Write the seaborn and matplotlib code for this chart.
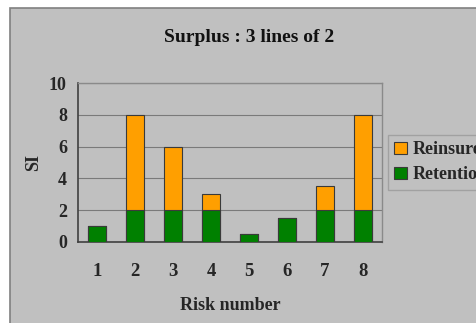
import matplotlib
matplotlib.use("Agg")
import matplotlib.pyplot as plt
import seaborn as sns
import numpy as np
import pandas as pd
from matplotlib.patches import Rectangle

categories = ["1", "2", "3", "4", "5", "6", "7", "8"]
retention = [1, 2, 2, 2, 0.5, 1.5, 2, 2]
reinsured = [0, 6, 4, 1, 0, 0, 1.5, 6]
yticks = [0, 2, 4, 6, 8, 10]

sns.set_style("white")
plt.rcParams["font.family"] = ["Liberation Serif", "DejaVu Serif"]
plt.rcParams["font.weight"] = "bold"

W, H = 477, 323
fig = plt.figure(figsize=(W / 100, H / 100), dpi=100)
fig.patch.set_facecolor("white")
bg = "#C0C0C0"
fig.patches.append(Rectangle((10.5 / W, -0.01), 1.1, 1 - 8 / H + 0.01, transform=fig.transFigure,
                             facecolor=bg, edgecolor="#808080", linewidth=1.2, zorder=-5))

ax = fig.add_axes([78 / W, 1 - 242 / H, (382 - 78) / W, (242 - 83) / H])
ax.set_zorder(2)
ax.set_facecolor(bg)

total = [a + b for a, b in zip(retention, reinsured)]
df = pd.DataFrame({"risk": categories, "total": total, "retention": retention})

sns.barplot(data=df, x="risk", y="total", color="#FF9F00", saturation=1, width=0.45,
            edgecolor="#3a3a3a", linewidth=0.8, ax=ax, zorder=3)
sns.barplot(data=df, x="risk", y="retention", color="#008000", saturation=1, width=0.45,
            edgecolor="#3a3a3a", linewidth=0.8, ax=ax, zorder=4)

ax.set_ylim(0, 10)
ax.set_xlim(-0.5, len(categories) - 0.5)
ax.set_yticks(yticks)
ax.set_yticklabels([str(t) for t in yticks], fontsize=13, fontweight="bold")
ax.set_xticks(range(len(categories)))
ax.set_xticklabels(categories, fontsize=13.5, fontweight="bold")
ax.set_xticks(np.arange(-0.5, len(categories), 1.0), minor=True)
ax.tick_params(axis="x", which="major", length=0, pad=15)
ax.tick_params(axis="x", which="minor", length=5, width=1, color="#404040", direction="out")
ax.tick_params(axis="y", which="major", length=5, width=1, color="#404040", direction="out", pad=3)
ax.yaxis.grid(True, color="#7a7a7a", linewidth=0.8, zorder=0)
ax.set_axisbelow(True)

for s in ["top", "right"]:
    ax.spines[s].set_color("#8a8a8a")
    ax.spines[s].set_linewidth(1)
for s in ["left", "bottom"]:
    ax.spines[s].set_color("#404040")
    ax.spines[s].set_linewidth(1.2)

ax.set_xlabel("Risk number", fontsize=13, fontweight="bold", labelpad=12)
ax.set_ylabel("SI", fontsize=13, fontweight="bold", labelpad=5)

fig.text(249 / W, 1 - 38 / H, "Surplus : 3 lines of 2", ha="center", va="center",
         fontsize=14, fontweight="bold", color="#111111")

handles = [Rectangle((0, 0), 1, 1, facecolor="#FF9F00", edgecolor="#3a3a3a", linewidth=0.8),
           Rectangle((0, 0), 1, 1, facecolor="#008000", edgecolor="#3a3a3a", linewidth=0.8)]
leg = fig.legend(handles, ["Reinsured", "Retention"], loc="upper left",
                 bbox_to_anchor=(388 / W, 1 - 135 / H), frameon=True, fancybox=False,
                 prop={"size": 13, "weight": "bold"}, handlelength=0.7, handleheight=0.7,
                 handletextpad=0.3, borderpad=0.35, labelspacing=0.45, borderaxespad=0)
leg.set_zorder(5)
leg.get_frame().set_facecolor(bg)
leg.get_frame().set_edgecolor("#9a9a9a")

fig.savefig("out.png", dpi=100)
